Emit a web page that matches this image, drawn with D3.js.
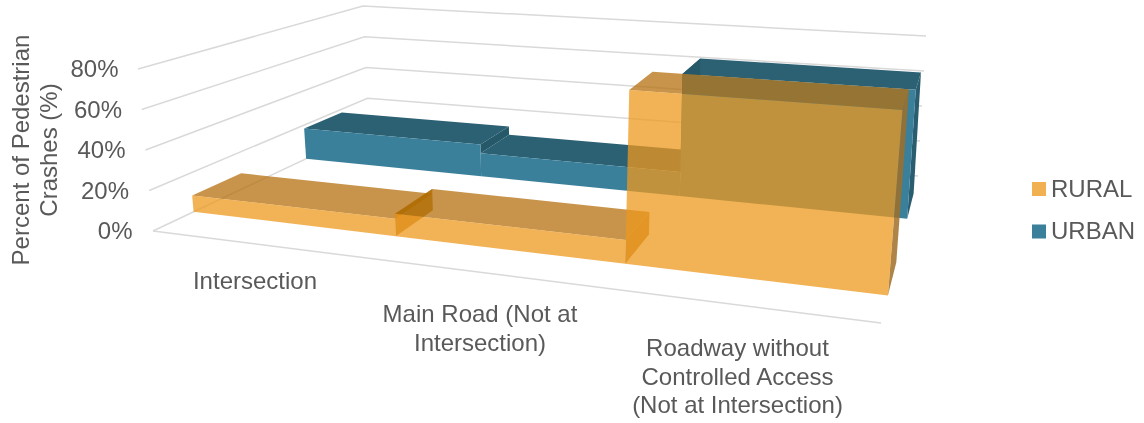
<!DOCTYPE html>
<html><head><meta charset="utf-8">
<script src="https://cdn.jsdelivr.net/npm/d3@7"></script>
<style>
html,body{margin:0;padding:0;background:#fff}
svg{display:block;filter:blur(.45px)}
text{font-family:"Liberation Sans",Arial,sans-serif;fill:#595959}
</style></head><body>
<svg id="c" width="1144" height="423"></svg>
<script>
const categories = ["Intersection","Main Road (Not at Intersection)","Roadway without Controlled Access (Not at Intersection)"];
const categoryLines = [["Intersection"],["Main Road (Not at","Intersection)"],["Roadway without","Controlled Access","(Not at Intersection)"]];
const seriesNames = ["RURAL","URBAN"];
const rural = [8.5,11,80];
const urban = [18,13,66];
const yTicks = [0,20,40,60,80];
const yTitle = ["Percent of Pedestrian","Crashes (%)"];

const svg = d3.select("#c");

// box corners on screen
const box = {
 fl0:[153,231], fl1:[138,69], bl0:[369,129], bl1:[363,6],
 fr0:[881,323], fr1:[897,127], br0:[918,176], br1:[926,36]
};
const persp = r => t => t/(t+(1-t)*r);
const uP = persp(1.217), vP = persp(0.763);
const uScale = d3.scaleLinear().domain([0,3]).range([0,1]);
const wScale = d3.scaleLinear().domain([0,80]).range([0,1]);
const vBand = d3.scaleBand().domain(seriesNames).range([0,1]).paddingInner(.6).paddingOuter(.3);
const mix = (a,b,t)=>[a[0]+(b[0]-a[0])*t,a[1]+(b[1]-a[1])*t];
function project(cat,v,val){
  const u=uP(uScale(cat)), d=vP(v), w=wScale(val);
  const p0=mix(mix(box.fl0,box.fr0,u),mix(box.bl0,box.br0,u),d);
  const p1=mix(mix(box.fl1,box.fr1,u),mix(box.bl1,box.br1,u),d);
  return mix(p0,p1,w);
}
const line=d3.line();
const grid=svg.append("g").attr("fill","none").attr("stroke","#d9d9d9").attr("stroke-width",1.5);
yTicks.forEach(t=>{
  grid.append("path").attr("d",line([project(0,0,t),project(0,1,t),project(3,1,t)]));
});
grid.append("path").attr("d",line([project(0,0,0),project(3,0,0)]));

function face(g,pts,fill){g.append("path").attr("d",line(pts)+"Z").attr("fill",fill);}
function faces(name){
  const v0=vBand(name), v1=v0+vBand.bandwidth();
  return {
    top:(i,val)=>[project(i,v0,val),project(i+1,v0,val),project(i+1,v1,val),project(i,v1,val)],
    front:(i,val)=>[project(i,v0,0),project(i+1,v0,0),project(i+1,v0,val),project(i,v0,val)],
    side:(c,lo,hi)=>[project(c,v0,lo),project(c,v1,lo),project(c,v1,hi),project(c,v0,hi)]
  };
}
// URBAN, opaque and behind
const gU=svg.append("g"), fU=faces("URBAN");
urban.forEach((d,i)=>face(gU,fU.top(i,d),"#2c6073"));
d3.pairs(urban).forEach(([a,b],i)=>face(gU,fU.side(i+1,Math.min(a,b),Math.max(a,b)),"#255869"));
face(gU,fU.side(3,0,urban[2]),"#2a5d70");
urban.forEach((d,i)=>face(gU,fU.front(i,d),"#3b809b"));

// RURAL, translucent and in front
const gR=svg.append("g"), fR=faces("RURAL");
rural.forEach((d,i)=>face(gR,fR.top(i,d),"rgba(181,112,16,.75)"));
[1,2].forEach(c=>face(gR,fR.side(c,0,rural[1]),"rgba(176,108,0,.75)"));
face(gR,fR.side(3,0,rural[2]),"rgba(160,110,40,.85)");
rural.forEach((d,i)=>face(gR,fR.front(i,d),"rgba(238,152,30,.75)"));

// y tick labels
const tickX=d3.scaleLinear().domain([0,80]).range([132.5,118.5]);
const tickY=d3.scaleLinear().domain([0,80]).range([231,68.5]);
svg.append("g").selectAll("text").data(yTicks).join("text")
  .attr("x",d=>tickX(d)).attr("y",d=>tickY(d)).attr("dy","0.35em").attr("text-anchor","end")
  .attr("font-size",24).text(d=>d+"%");
// y title
const yt=svg.append("text").attr("transform","translate(29,150) rotate(-90)").attr("text-anchor","middle").attr("font-size",24);
yTitle.forEach((s,i)=>yt.append("tspan").attr("x",0).attr("y",i*28).text(s));
// category labels
const catAnchors=[[255,289],[480,322],[737.5,356]];
categoryLines.forEach((lines,i)=>{
  const t=svg.append("text").attr("text-anchor","middle").attr("font-size",24);
  lines.forEach((s,j)=>t.append("tspan").attr("x",catAnchors[i][0]).attr("y",catAnchors[i][1]+j*28.5).text(s));
});
// legend
const legendY=d3.scalePoint().domain(seriesNames).range([188.5,231]);
const legendFill={RURAL:"#f2b151",URBAN:"#3b809b"};
const lg=svg.append("g");
seriesNames.forEach(n=>{
  lg.append("rect").attr("x",1032).attr("y",legendY(n)-6.5).attr("width",14).attr("height",14).attr("fill",legendFill[n]);
  lg.append("text").attr("x",1051).attr("y",legendY(n)).attr("dy","0.35em").attr("font-size",24).text(n);
});
</script>
</body></html>
